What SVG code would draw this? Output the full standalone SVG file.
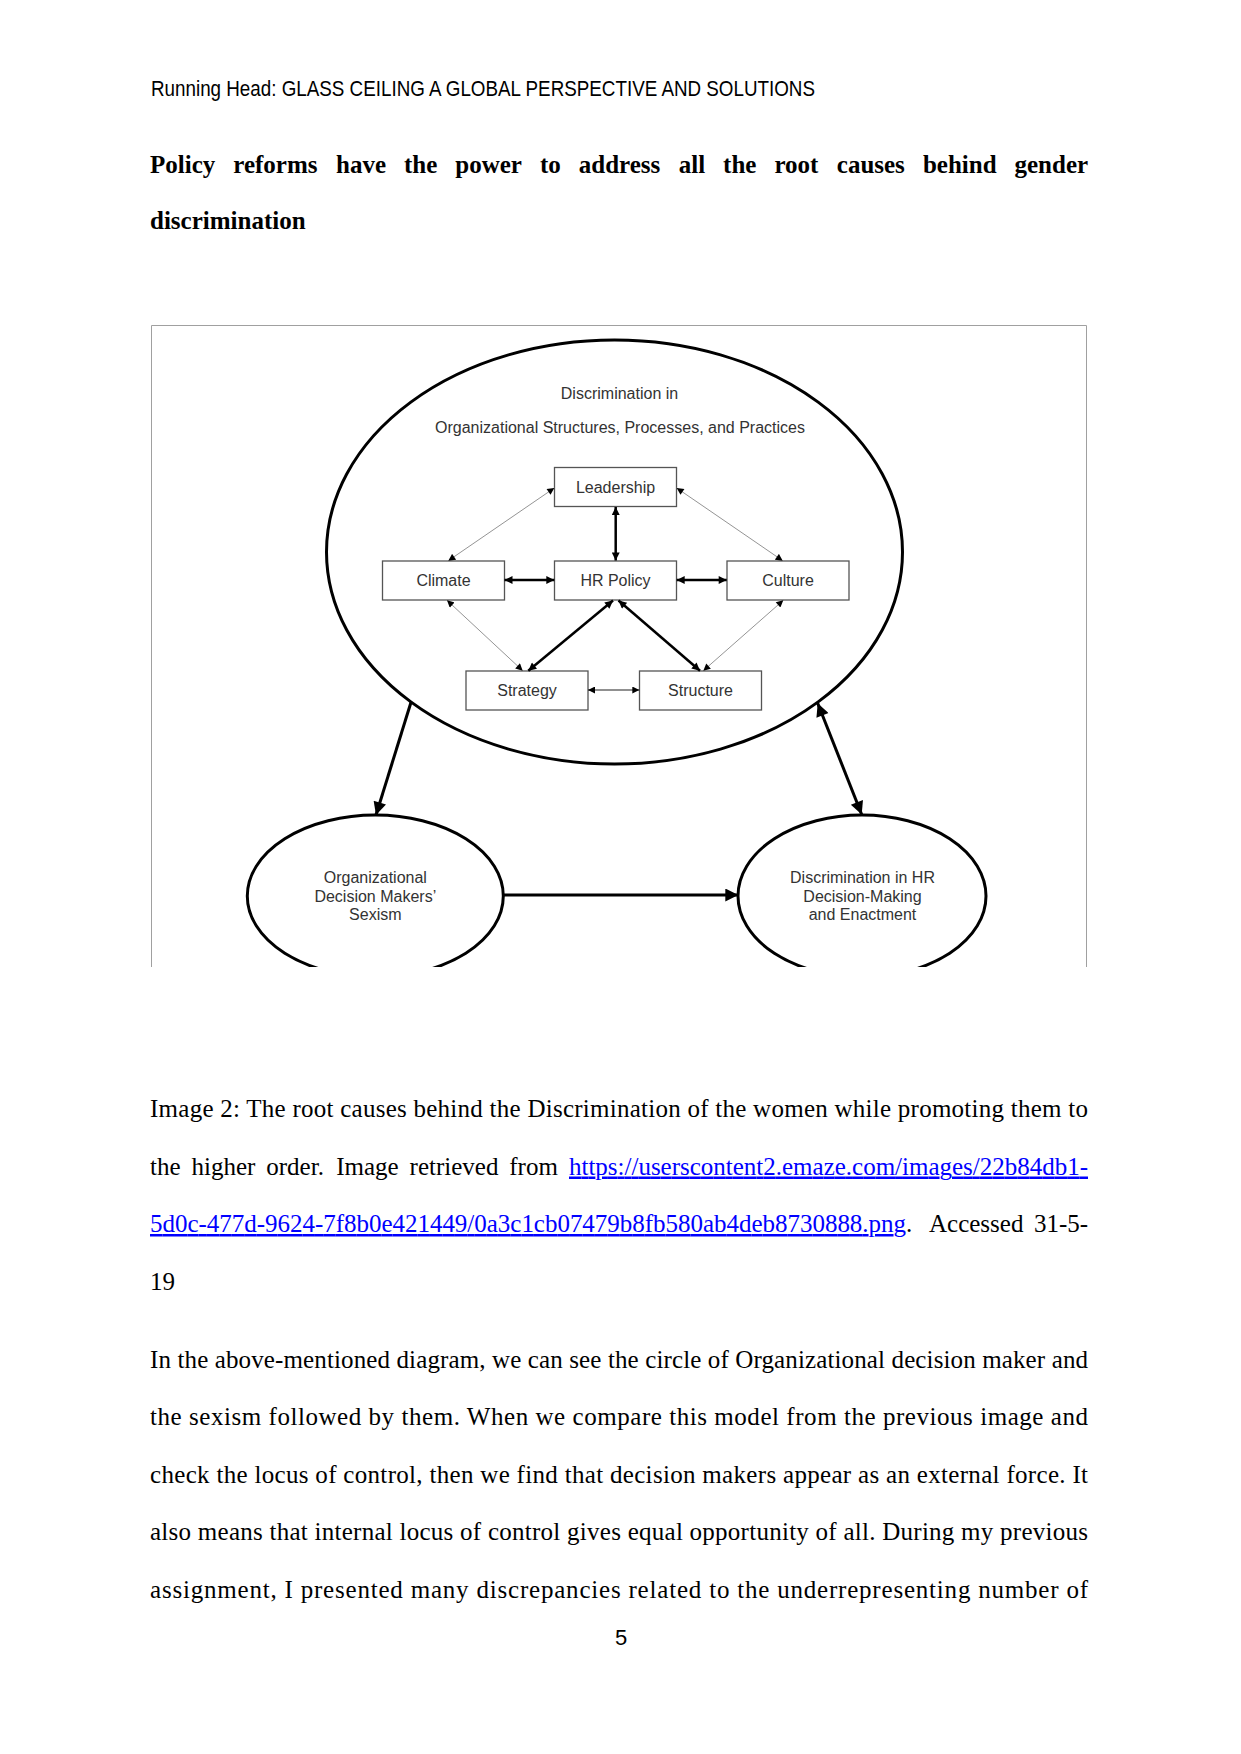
<svg xmlns="http://www.w3.org/2000/svg" width="1241" height="1754" viewBox="0 0 1241 1754">
<style>
.hdr{font-family:"Liberation Sans",Arial,sans-serif;font-size:22px;fill:#000}
.h1{font-family:"Liberation Serif","Times New Roman",serif;font-weight:bold;font-size:25px;fill:#000}
.body{font-family:"Liberation Serif","Times New Roman",serif;font-size:25px;fill:#000}
.link{fill:#0000ff;text-decoration:underline}
.lbl{font-family:"Liberation Sans",Arial,sans-serif;font-size:16px;fill:#333;text-anchor:middle}
.box{fill:#fff;stroke:#555;stroke-width:1.3}
.oval{fill:none;stroke:#000;stroke-width:3}
.thick{stroke:#000;stroke-width:2.5;fill:none}
.thin{stroke:#888;stroke-width:0.9;fill:none}
.mid{stroke:#222;stroke-width:1.2;fill:none}
.big{stroke:#000;stroke-width:3;fill:none}
</style>
<defs>
<marker id="mS" viewBox="0 0 10 10" refX="10" refY="5" markerWidth="8" markerHeight="7" markerUnits="userSpaceOnUse" orient="auto-start-reverse"><path d="M0,0L10,5L0,10z" fill="#000"/></marker>
<marker id="mM" viewBox="0 0 10 10" refX="10" refY="5" markerWidth="10" markerHeight="8" markerUnits="userSpaceOnUse" orient="auto-start-reverse"><path d="M0,0L10,5L0,10z" fill="#000"/></marker>
<marker id="mL" viewBox="0 0 10 10" refX="10" refY="5" markerWidth="16" markerHeight="13" markerUnits="userSpaceOnUse" orient="auto-start-reverse"><path d="M0,0L10,5L0,10z" fill="#000"/></marker>
<clipPath id="fig"><rect x="151.5" y="325" width="935" height="642"/></clipPath>
</defs>
<rect x="0" y="0" width="1241" height="1754" fill="#fff"/>

<text class="hdr" x="151" y="96" textLength="664" lengthAdjust="spacingAndGlyphs">Running Head: GLASS CEILING A GLOBAL PERSPECTIVE AND SOLUTIONS</text>

<text class="h1" y="173"><tspan x="150">Policy</tspan><tspan x="233.3">reforms</tspan><tspan x="336">have</tspan><tspan x="404">the</tspan><tspan x="455.3">power</tspan><tspan x="540">to</tspan><tspan x="578.8">address</tspan><tspan x="678.7">all</tspan><tspan x="723.1">the</tspan><tspan x="774.4">root</tspan><tspan x="836.8">causes</tspan><tspan x="922.9">behind</tspan><tspan x="1014.5">gender</tspan></text>
<text class="h1" x="150" y="229">discrimination</text>

<g id="figure">
<rect x="151.5" y="325" width="935" height="642" fill="#fff"/>
<path d="M151.5,967V325.5H1086.5V967" fill="none" stroke="#a0a0a0" stroke-width="1"/>
<g clip-path="url(#fig)">
<g id="outer">
<ellipse class="oval" cx="614.5" cy="552" rx="288" ry="212"/>
<text class="lbl" x="619.5" y="399">Discrimination in</text>
<text class="lbl" x="620" y="433">Organizational Structures, Processes, and Practices</text>
</g>
<g id="leadership"><rect class="box" x="554.5" y="467.5" width="122" height="39"/><text class="lbl" x="615.5" y="493">Leadership</text></g>
<g id="climate"><rect class="box" x="382.5" y="561" width="122" height="39"/><text class="lbl" x="443.5" y="586">Climate</text></g>
<g id="hrpolicy"><rect class="box" x="554.5" y="561" width="122" height="39"/><text class="lbl" x="615.5" y="586">HR Policy</text></g>
<g id="culture"><rect class="box" x="727" y="561" width="122" height="39"/><text class="lbl" x="788" y="586">Culture</text></g>
<g id="strategy"><rect class="box" x="466" y="671" width="122" height="39"/><text class="lbl" x="527" y="696">Strategy</text></g>
<g id="structure"><rect class="box" x="639.5" y="671" width="122" height="39"/><text class="lbl" x="700.5" y="696">Structure</text></g>
<g id="sexism"><ellipse class="oval" cx="375.3" cy="896" rx="128" ry="81"/>
<text class="lbl" x="375.3" y="883">Organizational</text>
<text class="lbl" x="375.3" y="901.5">Decision Makers’</text>
<text class="lbl" x="375.3" y="920">Sexism</text></g>
<g id="hrdecision"><ellipse class="oval" cx="862" cy="896" rx="124" ry="81"/>
<text class="lbl" x="862.5" y="883">Discrimination in HR</text>
<text class="lbl" x="862.5" y="901.5">Decision-Making</text>
<text class="lbl" x="862.5" y="920">and Enactment</text></g>
<g id="connectors">
<line class="thick" x1="615.7" y1="507" x2="615.7" y2="560.5" marker-start="url(#mM)" marker-end="url(#mM)"/>
<line class="thick" x1="504.5" y1="580" x2="554.3" y2="580" marker-start="url(#mM)" marker-end="url(#mM)"/>
<line class="thick" x1="676.7" y1="580" x2="726.7" y2="580" marker-start="url(#mM)" marker-end="url(#mM)"/>
<line class="thick" x1="613" y1="600.5" x2="528.3" y2="670.7" marker-start="url(#mM)" marker-end="url(#mM)"/>
<line class="thick" x1="618.5" y1="600.5" x2="700" y2="670.7" marker-start="url(#mM)" marker-end="url(#mM)"/>
<line class="thin" x1="554.3" y1="488" x2="448.3" y2="560.7" marker-start="url(#mS)" marker-end="url(#mS)"/>
<line class="thin" x1="676.7" y1="488" x2="782.7" y2="560.7" marker-start="url(#mS)" marker-end="url(#mS)"/>
<line class="thin" x1="447" y1="600.3" x2="522.7" y2="670.7" marker-start="url(#mS)" marker-end="url(#mS)"/>
<line class="thin" x1="783.3" y1="600.3" x2="703.3" y2="670.7" marker-start="url(#mS)" marker-end="url(#mS)"/>
<line class="mid" x1="588" y1="690" x2="639.3" y2="690" marker-start="url(#mS)" marker-end="url(#mS)"/>
<line class="big" x1="411" y1="702.3" x2="376" y2="815" marker-end="url(#mL)"/>
<line class="big" x1="817.7" y1="703.3" x2="861.7" y2="814.5" marker-start="url(#mL)" marker-end="url(#mL)"/>
<line class="big" x1="503.3" y1="895" x2="738.3" y2="895" marker-end="url(#mL)"/>
</g>
</g>
</g>

<text class="body" x="150" y="1117" textLength="938" lengthAdjust="spacing">Image 2: The root causes behind the Discrimination of the women while promoting them to</text>
<text class="body" y="1174.5"><tspan x="150">the</tspan><tspan x="191.5">higher</tspan><tspan x="266.3">order.</tspan><tspan x="336.2">Image</tspan><tspan x="409.6">retrieved</tspan><tspan x="509.3">from</tspan></text>
<text class="body link" x="569" y="1174.5" textLength="519" lengthAdjust="spacing">https://userscontent2.emaze.com/images/22b84db1-</text>
<text class="body link" x="150" y="1232" textLength="756" lengthAdjust="spacing">5d0c-477d-9624-7f8b0e421449/0a3c1cb07479b8fb580ab4deb8730888.png</text>
<text class="body" y="1232"><tspan x="906">.</tspan><tspan x="929">Accessed</tspan><tspan x="1034">31-5-</tspan></text>
<text class="body" x="150" y="1289.5">19</text>

<text class="body" x="150" y="1367.5" textLength="938" lengthAdjust="spacing">In the above-mentioned diagram, we can see the circle of Organizational decision maker and</text>
<text class="body" x="150" y="1425" textLength="938" lengthAdjust="spacing">the sexism followed by them. When we compare this model from the previous image and</text>
<text class="body" x="150" y="1482.5" textLength="938" lengthAdjust="spacing">check the locus of control, then we find that decision makers appear as an external force. It</text>
<text class="body" x="150" y="1540" textLength="938" lengthAdjust="spacing">also means that internal locus of control gives equal opportunity of all. During my previous</text>
<text class="body" x="150" y="1597.5" textLength="938" lengthAdjust="spacing">assignment, I presented many discrepancies related to the underrepresenting number of</text>

<text class="hdr" x="621" y="1645" text-anchor="middle">5</text>
</svg>
